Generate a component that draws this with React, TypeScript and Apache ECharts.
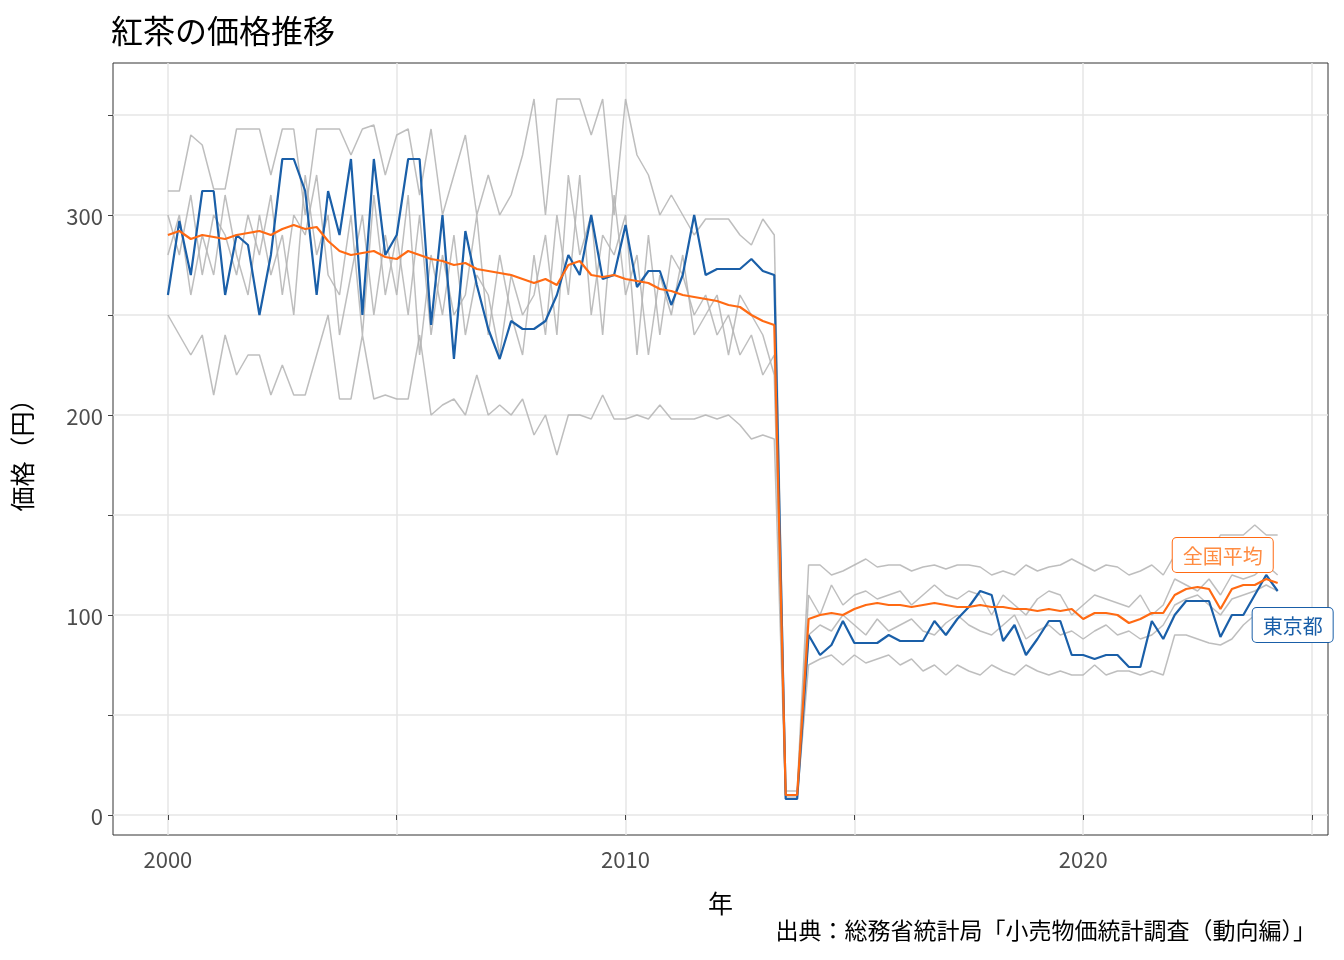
import { useEffect, useRef } from "react";
import * as echarts from "echarts";

// quarterly points starting 2000.0
const START = 2000;
const STEP = 0.25;

const average = [
  290, 292, 288, 290, 289, 288, 290, 291, 292, 290, 293, 295, 293, 294, 287, 282,
  280, 281, 282, 279, 278, 282, 280, 278, 277, 275, 276, 273, 272, 271, 270, 268,
  266, 268, 265, 275, 277, 270, 269, 270, 268, 267, 266, 263, 262, 260, 259, 258,
  257, 255, 254, 250, 247, 245, 10, 10, 98, 100, 101, 100, 103, 105, 106, 105,
  105, 104, 105, 106, 105, 104, 104, 105, 104, 104, 103, 103, 102, 103, 102, 103,
  98, 101, 101, 100, 96, 98, 101, 101, 110, 113, 114, 113, 103, 113, 115, 115,
  118, 116,
];

const city = [
  260, 297, 270, 312, 312, 260, 290, 285, 250, 280, 328, 328, 312, 260, 312, 290,
  328, 250, 328, 280, 290, 328, 328, 245, 300, 228, 292, 265, 243, 228, 247, 243,
  243, 247, 260, 280, 270, 300, 268, 270, 295, 264, 272, 272, 255, 270, 300, 270,
  273, 273, 273, 278, 272, 270, 8, 8, 90, 80, 85, 97, 86, 86, 86, 90,
  87, 87, 87, 97, 90, 98, 104, 112, 110, 87, 95, 80, 88, 97, 97, 80,
  80, 78, 80, 80, 74, 74, 97, 88, 100, 107, 107, 107, 89, 100, 100, 110,
  120, 112,
];

const otherCities = [
  [
    312, 312, 340, 335, 313, 313, 343, 343, 343, 320, 343, 343, 300, 343, 343, 343,
    330, 343, 345, 320, 340, 343, 310, 343, 300, 320, 340, 300, 320, 300, 310, 330,
    358, 300, 358, 358, 358, 340, 358, 300, 358, 330, 320, 300, 310, 300, 290, 298,
    298, 298, 290, 285, 298, 290, 12, 12, 125, 125, 120, 122, 125, 128, 124, 125,
    125, 122, 124, 125, 123, 125, 125, 124, 120, 122, 120, 125, 122, 124, 125, 128,
    125, 122, 125, 124, 120, 122, 125, 120, 130, 130, 130, 130, 140, 140, 140, 145,
    140, 140,
  ],
  [
    250, 240, 230, 240, 210, 240, 220, 230, 230, 210, 225, 210, 210, 230, 250, 208,
    208, 240, 208, 210, 208, 208, 240, 200, 205, 208, 200, 220, 200, 205, 200, 208,
    190, 200, 180, 200, 200, 198, 210, 198, 198, 200, 198, 205, 198, 198, 198, 200,
    198, 200, 195, 188, 190, 188, 8, 8, 75, 78, 80, 75, 80, 76, 78, 80,
    75, 78, 72, 75, 70, 75, 72, 70, 75, 72, 70, 75, 72, 70, 72, 70,
    70, 75, 70, 72, 72, 70, 72, 70, 90, 90, 88, 86, 85, 88, 95, 100,
    100, 102,
  ],
  [
    300, 280, 310, 270, 300, 290, 270, 300, 280, 310, 260, 300, 290, 320, 270, 260,
    300, 240, 310, 260, 290, 250, 300, 240, 280, 250, 260, 300, 240, 280, 250, 230,
    280, 240, 300, 260, 320, 250, 290, 280, 300, 230, 290, 240, 280, 270, 250, 260,
    240, 250, 230, 240, 220, 230, 10, 10, 110, 100, 115, 105, 110, 112, 108, 110,
    112, 105, 110, 115, 110, 108, 112, 110, 100, 110, 105, 100, 108, 112, 110, 100,
    105, 110, 108, 106, 104, 110, 100, 105, 118, 115, 112, 118, 110, 120, 118, 120,
    125, 120,
  ],
  [
    280, 300, 260, 290, 270, 310, 280, 260, 300, 270, 290, 250, 320, 280, 300, 240,
    270, 300, 250, 290, 260, 310, 230, 280, 250, 290, 240, 270, 260, 230, 270, 250,
    260, 290, 240, 320, 280, 300, 240, 310, 260, 280, 230, 270, 250, 280, 240, 250,
    260, 230, 260, 250, 240, 220, 9, 9, 90, 95, 92, 100, 95, 90, 98, 92,
    95, 98, 92, 90, 96, 100, 95, 92, 90, 95, 100, 88, 92, 95, 90, 92,
    88, 92, 95, 90, 92, 88, 90, 95, 105, 108, 110, 105, 100, 108, 110, 112,
    115, 112,
  ],
];

const yearTicks = [2000, 2005, 2010, 2015, 2020, 2025];
const yearLabels = [2000, 2010, 2020];
const priceTicks = [0, 50, 100, 150, 200, 250, 300, 350];
const priceLabels = [0, 100, 200, 300];

const toPairs = (values: number[]) => values.map((v, i) => [START + i * STEP, v]);

const FONT = "'Noto Sans CJK JP', 'Noto Sans', sans-serif";

export default function App() {
  const ref = useRef<HTMLDivElement | null>(null);

  useEffect(() => {
    if (!ref.current) return;
    const chart = echarts.init(ref.current, undefined, { renderer: "svg" });
    const last = average.length - 1;
    chart.setOption({
      animation: false,
      textStyle: { fontFamily: FONT },
      title: {
        text: "紅茶の価格推移",
        left: 106,
        top: 8,
        textStyle: { fontSize: 32, fontWeight: "normal", color: "#000", fontFamily: FONT },
      },
      graphic: [
        {
          type: "text",
          right: 28,
          top: 917,
          style: {
            text: "出典：総務省統計局「小売物価統計調査（動向編）」",
            fontSize: 23,
            fill: "#000",
            fontFamily: FONT,
          },
        },
      ],
      grid: {
        left: 110,
        right: 16,
        top: 63,
        bottom: 125,
        show: true,
        borderColor: "#333",
        borderWidth: 1,
        backgroundColor: "#fff",
      },
      xAxis: {
        type: "value",
        min: 1998.8,
        max: 2025.35,
        name: "年",
        nameLocation: "middle",
        nameGap: 54,
        nameTextStyle: { fontSize: 25, color: "#000" },
        axisLine: { show: false },
        axisTick: { show: true, customValues: yearTicks, length: 5, lineStyle: { color: "#444" } },
        axisLabel: {
          customValues: yearLabels,
          formatter: (v: number) => String(v),
          fontSize: 22,
          color: "#4d4d4d",
          margin: 12,
        },
        splitLine: { show: true, lineStyle: { color: "#e6e6e6", width: 1.5 } },
      },
      yAxis: {
        type: "value",
        min: -10,
        max: 376,
        name: "価格（円）",
        nameLocation: "middle",
        nameGap: 80,
        nameTextStyle: { fontSize: 25, color: "#000" },
        axisLine: { show: false },
        axisTick: { show: true, customValues: priceTicks, length: 5, lineStyle: { color: "#444" } },
        axisLabel: { customValues: priceLabels, fontSize: 22, color: "#4d4d4d", margin: 10 },
        splitLine: { show: true, lineStyle: { color: "#e6e6e6", width: 1.5 } },
      },
      series: [
        ...otherCities.map((values) => ({
          type: "line",
          data: toPairs(values),
          showSymbol: false,
          silent: true,
          lineStyle: { color: "#b3b3b3", width: 1.5, opacity: 0.85 },
        })),
        {
          name: "city",
          type: "line",
          data: toPairs(city),
          showSymbol: false,
          lineStyle: { color: "#1a5fa8", width: 2.2 },
          markPoint: {
            symbol: "rect",
            symbolSize: 1,
            itemStyle: { color: "transparent" },
            data: [
              {
                coord: [START + last * STEP, 95],
                label: {
                  show: true,
                  formatter: "東京都",
                  offset: [15, 0],
                  color: "#1a5fa8",
                  fontSize: 20,
                  backgroundColor: "#fff",
                  borderColor: "#1a5fa8",
                  borderWidth: 1,
                  borderRadius: 4,
                  padding: [7, 10],
                },
              },
            ],
          },
        },
        {
          name: "average",
          type: "line",
          data: toPairs(average),
          showSymbol: false,
          lineStyle: { color: "#ff6a13", width: 2.2 },
          markPoint: {
            symbol: "rect",
            symbolSize: 1,
            itemStyle: { color: "transparent" },
            data: [
              {
                coord: [START + last * STEP - 1.2, 130],
                label: {
                  show: true,
                  formatter: "全国平均",
                  color: "#ff8c42",
                  fontSize: 20,
                  backgroundColor: "#fff",
                  borderColor: "#ff6a13",
                  borderWidth: 1,
                  borderRadius: 4,
                  padding: [7, 10],
                },
              },
            ],
          },
        },
      ],
    });
    return () => chart.dispose();
  }, []);

  return (
    <div
      ref={ref}
      style={{ position: "fixed", left: 0, top: 0, width: 1344, height: 960 }}
    />
  );
}
